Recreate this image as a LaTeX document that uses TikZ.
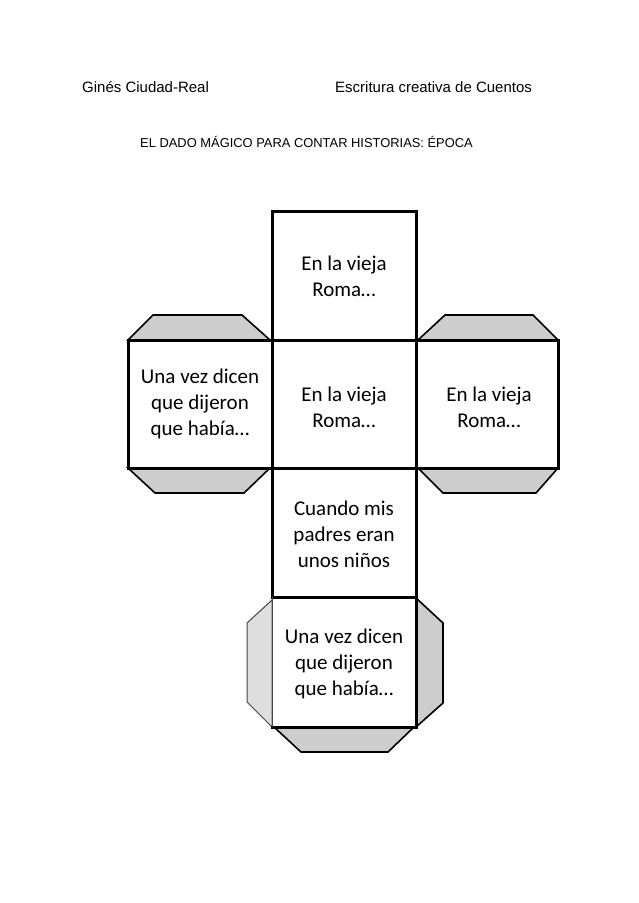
\documentclass[tikz,border=0pt]{standalone}
\usepackage{fontspec}
\setmainfont{Carlito}
\newfontfamily\arialf{Liberation Sans}
\definecolor{tabgray}{RGB}{205,205,205}
\definecolor{tablight}{RGB}{222,222,222}
\definecolor{tabedge}{RGB}{70,70,70}
\begin{document}
\begin{tikzpicture}[x=1pt,y=-1pt,
  tab/.style={fill=tabgray, draw=black, line width=1.6pt, line join=miter},
  tablt/.style={fill=tablight, draw=tabedge, line width=1pt},
  border/.style={draw=black, line width=3pt, line cap=rect},
  face/.style={inner sep=0pt, align=center,
    font=\fontsize{21}{26}\selectfont},
  header/.style={inner sep=0pt, anchor=base west, font=\arialf\fontsize{15}{18}\selectfont},
  titletext/.style={inner sep=0pt, anchor=base west, font=\arialf\fontsize{12.9}{15}\selectfont}]
\useasboundingbox (0,0) rectangle (638,903);
\fill[white] (0,0) rectangle (638,903);

% header
\node[header] (author) at (82,92.5) {Ginés Ciudad-Real};
\node[header] (course) at (335,92.5) {Escritura creativa de Cuentos};
\node[titletext] (title) at (140,147) {EL DADO MÁGICO PARA CONTAR HISTORIAS: ÉPOCA};

% tabs of the left face
\draw[tab] (128,340) -- (153,315) -- (242,315) -- (270,340) -- cycle;
\draw[tab] (128,468) -- (155,493) -- (244,493) -- (270,468) -- cycle;
% tabs of the right face
\draw[tab] (418,340) -- (445,315) -- (533,315) -- (558,340) -- cycle;
\draw[tab] (418,468) -- (443,493) -- (536,493) -- (558,468) -- cycle;
% tabs of the bottom face
\draw[tablt] (272,600) -- (247,623) -- (247,702) -- (272,727) -- cycle;
\draw[tab] (416,598) -- (443,623) -- (443,703) -- (416,727) -- cycle;
\draw[tab] (274,727) -- (301,752) -- (388,752) -- (414,727) -- cycle;

% face outlines
\draw[border] (272,211) -- (416,211);
\draw[border] (128,340) -- (558,340);
\draw[border] (128,468) -- (558,468);
\draw[border] (272,597) -- (416,597);
\draw[border] (272,727) -- (416,727);
\draw[border] (272,211) -- (272,597);
\draw[border] (416,211) -- (416,727);
\draw[border] (128,340) -- (128,468);
\draw[border] (558,340) -- (558,468);
\draw[line width=1pt, draw=tabedge] (272,597) -- (272,727);

% face texts
\node[face] (top) at (344,276) {En la vieja\\Roma…};
\node[face] (mid) at (344,407.5) {En la vieja\\Roma…};
\node[face] (left) at (200,404) {Una vez dicen\\que dijeron\\que había…};
\node[face] (right) at (489,407.5) {En la vieja\\Roma…};
\node[face] (kids) at (344,534.5) {Cuando mis\\padres eran\\unos niños};
\node[face] (bottom) at (344,664) {Una vez dicen\\que dijeron\\que había…};
\end{tikzpicture}
\end{document}
